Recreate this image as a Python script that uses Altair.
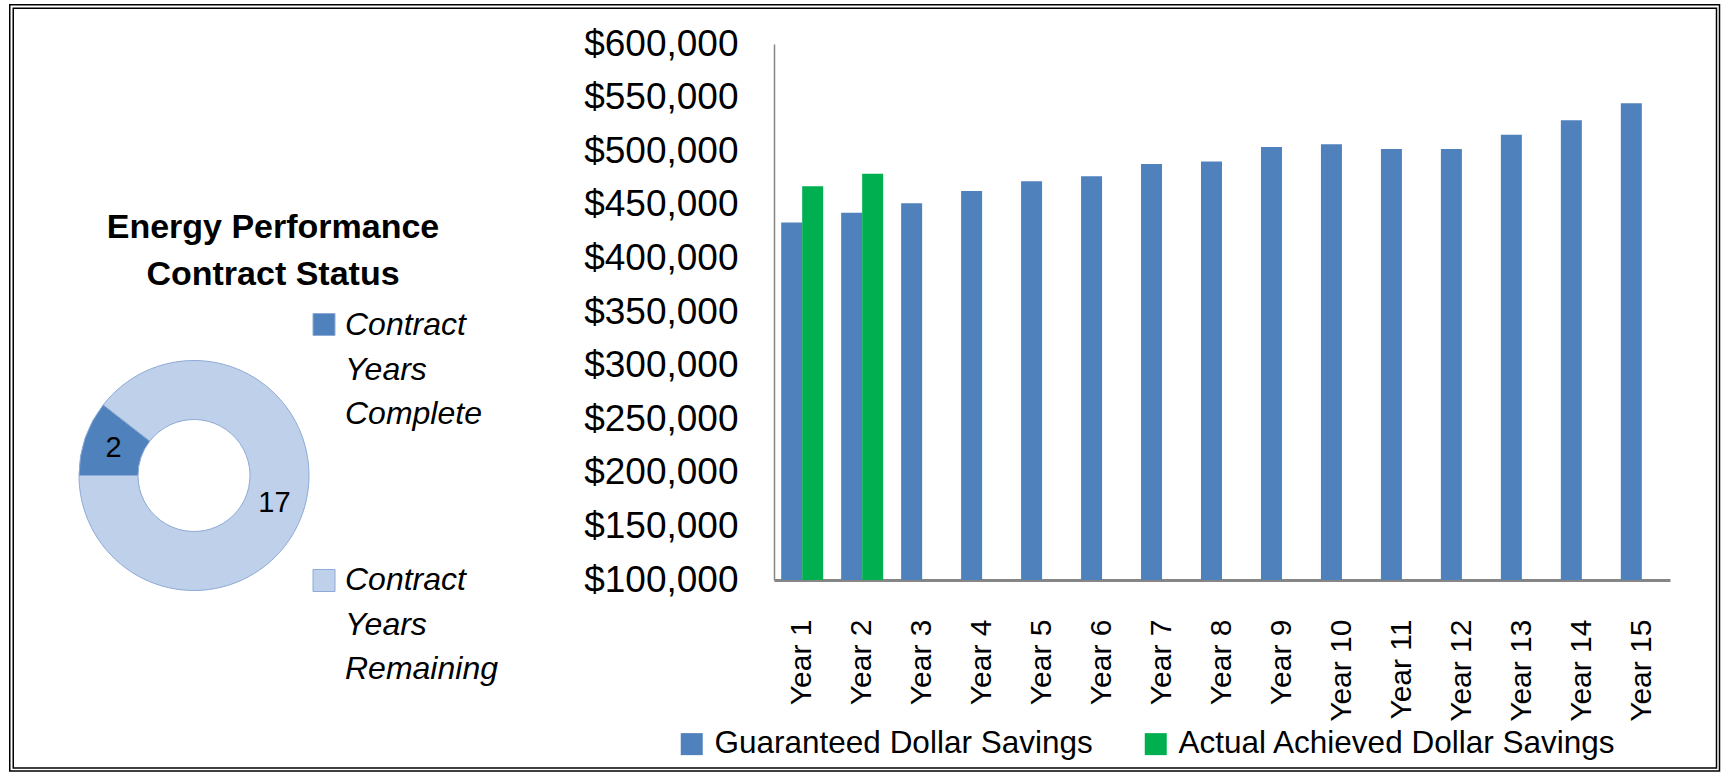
import math
import altair as alt
import pandas as pd

FONT = "Liberation Sans"

# ---------------- data ----------------
years = ["Year 1", "Year 2", "Year 3", "Year 4", "Year 5", "Year 6", "Year 7", "Year 8",
         "Year 9", "Year 10", "Year 11", "Year 12", "Year 13", "Year 14", "Year 15"]
guaranteed = [433500, 442500, 451500, 462900, 471900, 476600, 488000, 490300,
              504000, 506400, 502000, 502000, 515400, 528800, 544800]
actual = [467200, 478900]
series_names = ["Guaranteed Dollar Savings", "Actual Achieved Dollar Savings"]
series_colors = ["#4f81bd", "#00b050"]
y_ticks = [100000, 150000, 200000, 250000, 300000, 350000, 400000, 450000, 500000, 550000, 600000]

status_names = ["Contract Years Complete", "Contract Years Remaining"]
status_years = [2, 17]
status_colors = ["#4f81bd", "#bfd0ea"]
title_lines = ["Energy Performance", "Contract Status"]

# ---------------- tables ----------------
bar_rows = [{"year": y, "series": series_names[0], "value": v} for y, v in zip(years, guaranteed)]
bar_rows += [{"year": y, "series": series_names[1], "value": v} for y, v in zip(years, actual)]
bar_df = pd.DataFrame(bar_rows)

donut_df = pd.DataFrame({"status": status_names, "years": status_years, "idx": [0, 1]})
one_row = pd.DataFrame({"k": [0]})

# ---------------- bar panel ----------------
bars = alt.Chart(bar_df).mark_bar().encode(
    x=alt.X("year:N", sort=years, title=None,
            scale=alt.Scale(paddingInner=0.3, paddingOuter=0.12),
            axis=alt.Axis(labelAngle=270, labelFontSize=30, labelFont=FONT, labelColor="black",
                          labelPadding=39, ticks=False, tickSize=0, domainColor="#868686",
                          domainWidth=3, labelAlign="right", labelBaseline="middle",
                          labelOverlap=False)),
    xOffset=alt.XOffset("series:N", sort=series_names,
                        scale=alt.Scale(domain=series_names, paddingInner=0, paddingOuter=0)),
    y=alt.Y("value:Q", title=None,
            scale=alt.Scale(domain=[100000, 600000], zero=False, nice=False),
            axis=alt.Axis(values=y_ticks, format="$,.0f", labelFontSize=37, labelFont=FONT,
                          labelColor="black", labelPadding=36, ticks=False, tickSize=0,
                          grid=False, domainColor="#868686", domainWidth=1.5,
                          labelOverlap=False)),
    y2=alt.datum(100000),
    color=alt.Color("series:N",
                    scale=alt.Scale(domain=series_names, range=series_colors),
                    legend=alt.Legend(orient="none", legendX=-98, legendY=684,
                                      direction="horizontal", title=None,
                                      labelFontSize=31.5, labelFont=FONT, labelColor="black",
                                      symbolType="square", symbolSize=484,
                                      symbolStrokeWidth=0, labelOffset=7,
                                      columnPadding=47, labelLimit=0, padding=0)),
).properties(width=896, height=536)

# ---------------- donut panel ----------------
OY = 44  # panel origin y in page coordinates

bg = alt.Chart(one_row).mark_rect(fill="white").encode(
    x=alt.value(0), x2=alt.value(1721), y=alt.value(-OY), y2=alt.value(773 - OY))
frame_outer = alt.Chart(one_row).mark_rect(fillOpacity=0, stroke="black", strokeWidth=1.5).encode(
    x=alt.value(9.75), x2=alt.value(1719.5), y=alt.value(4.75 - OY), y2=alt.value(771 - OY))
frame_inner = alt.Chart(one_row).mark_rect(fillOpacity=0, stroke="black", strokeWidth=1.5).encode(
    x=alt.value(13.25), x2=alt.value(1716.5), y=alt.value(8.25 - OY), y2=alt.value(768 - OY))

TH0 = 3 * math.pi / 2
theta = alt.Theta("years:Q", stack=True, scale=alt.Scale(range=[TH0, TH0 + 2 * math.pi]))
status_color = alt.Color("status:N", scale=alt.Scale(domain=status_names, range=status_colors),
                         legend=None)

arc = alt.Chart(donut_df).mark_arc(innerRadius=56, outerRadius=115, stroke="#8eaad6",
                                   strokeWidth=1).encode(
    theta=theta, order=alt.Order("idx:Q"), color=status_color,
    x=alt.value(194), y=alt.value(475.5 - OY))

arc_labels = alt.Chart(donut_df).mark_text(radius=85, fontSize=29, font=FONT, color="black").encode(
    theta=theta, order=alt.Order("idx:Q"), text="years:Q",
    x=alt.value(194), y=alt.value(475.5 - OY))

title = alt.Chart(one_row).mark_text(text=title_lines, fontSize=34, font=FONT, fontWeight="bold",
                                     lineHeight=46.5, align="center", baseline="middle",
                                     color="black").encode(
    x=alt.value(273), y=alt.value(228 - OY))

sq_y = [324.5 - OY, 580.5 - OY]
txt_y = [325 - OY, 580 - OY]
legend_layers = []
for i in range(len(status_names)):
    legend_layers.append(
        alt.Chart(donut_df).transform_filter(alt.datum.idx == i).mark_square(
            size=484, opacity=1, stroke="#8eaad6", strokeWidth=1).encode(
            x=alt.value(324), y=alt.value(sq_y[i]), color=status_color))
    legend_layers.append(
        alt.Chart(donut_df).transform_filter(alt.datum.idx == i).mark_text(
            align="left", baseline="middle", fontSize=32, font=FONT, fontStyle="italic",
            lineBreak=" ", lineHeight=44.5, color="black").encode(
            x=alt.value(345), y=alt.value(txt_y[i]), text="status:N"))

donut_panel = alt.layer(bg, frame_outer, frame_inner, arc, arc_labels, title,
                        *legend_layers).properties(width=674, height=536)

chart = alt.hconcat(donut_panel, bars, spacing=100, bounds="flush").resolve_scale(
    color="independent").properties(padding=0).configure(font=FONT).configure_view(
    strokeWidth=0, stroke="transparent")

chart.save("out.html", embed_options={"renderer": "svg", "actions": False})
